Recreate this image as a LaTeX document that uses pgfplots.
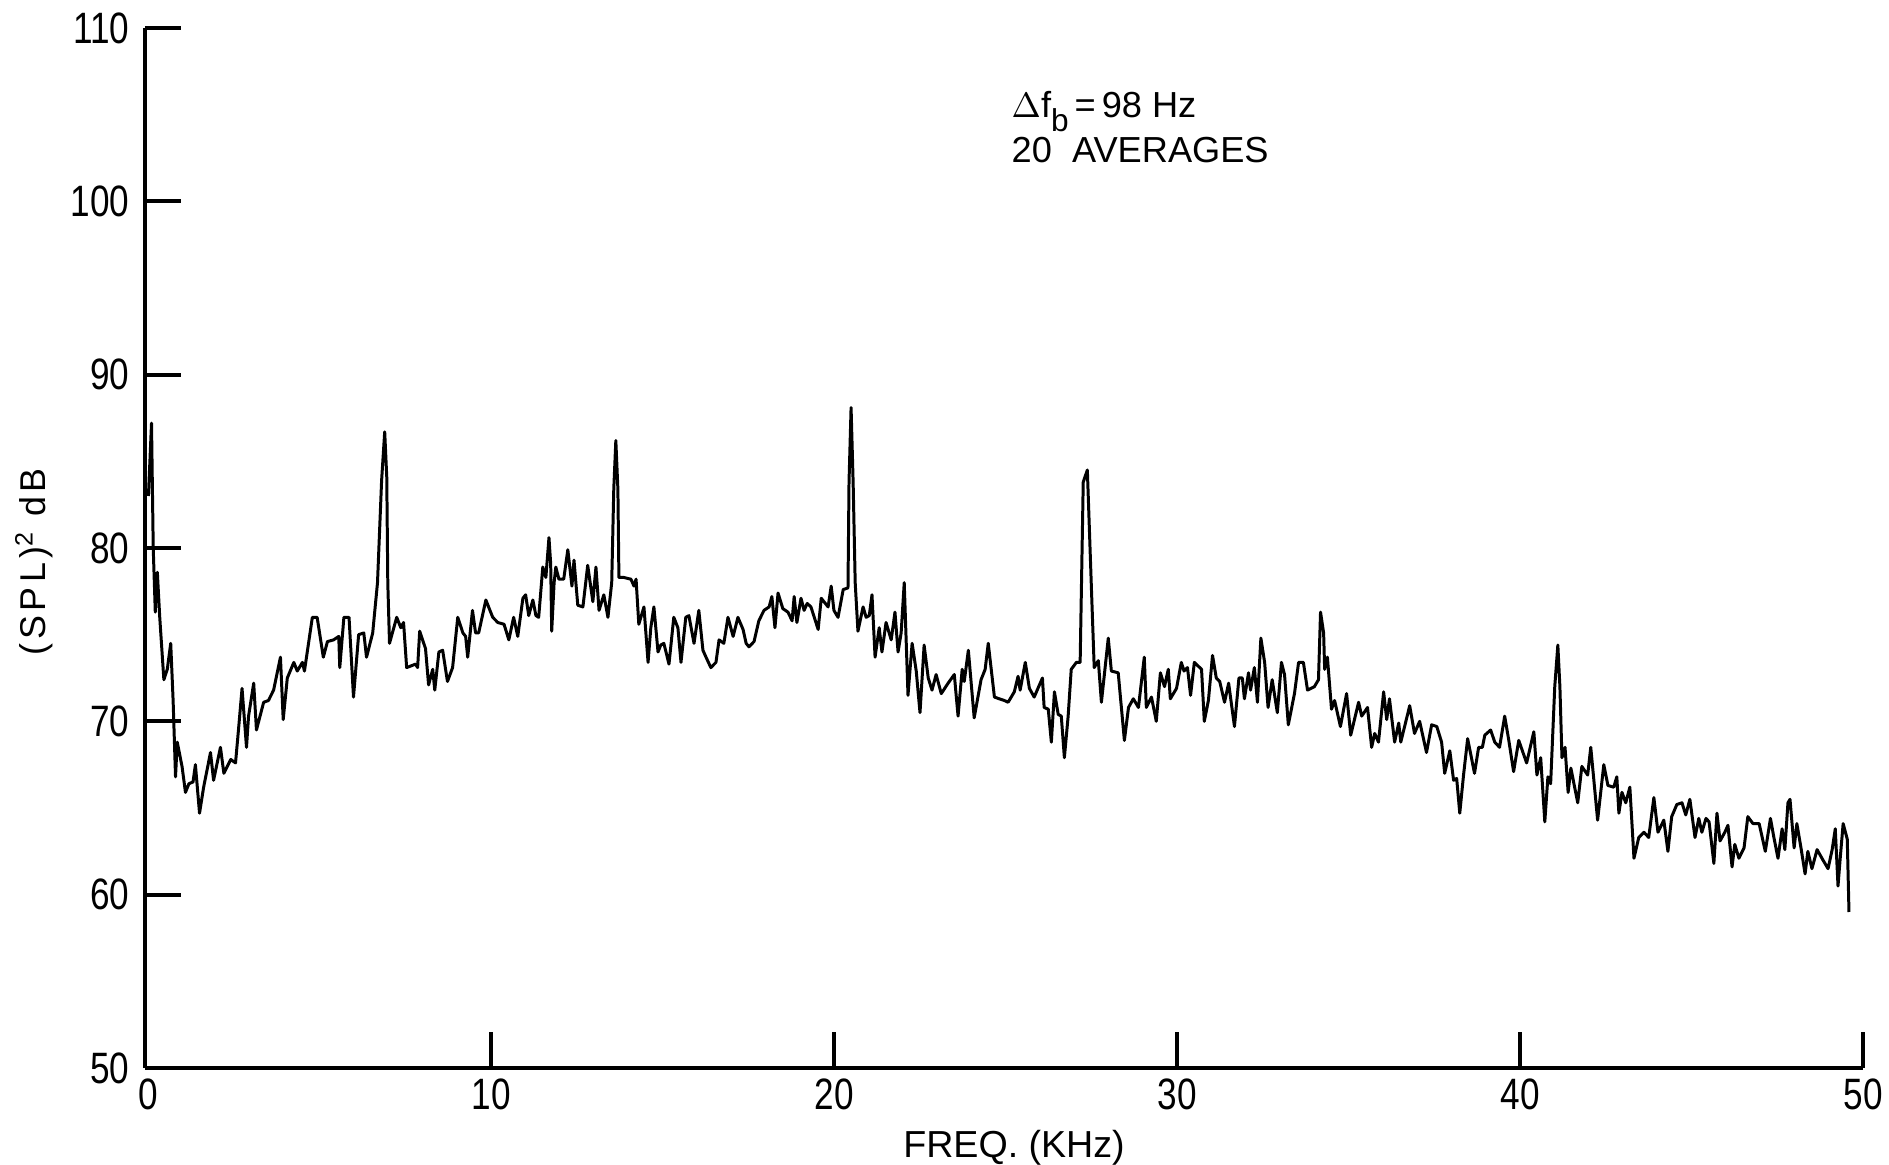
\documentclass[border=0pt]{standalone}
\usepackage{fontspec}
\setmainfont{Liberation Sans}
\newfontfamily\tickfont{Liberation Sans}[FakeStretch=0.8]
\newfontfamily\ylabfont{Liberation Sans}[LetterSpace=12]
\usepackage{pgfplots}
\pgfplotsset{compat=1.18}

\begin{document}
\begin{tikzpicture}
\begin{axis}[
  scale only axis,
  width=171.8mm, height=104mm,
  xmin=-0.1, xmax=50, ymin=50, ymax=110,
  axis x line*=bottom, axis y line*=left,
  axis line style={line width=1.3pt, black},
  xtick={10,20,30,40,50},
  ytick={60,70,80,90,100,110},
  extra x ticks={0}, extra y ticks={50},
  extra tick style={major tick length=0pt},
  tick align=inside,
  major tick length=3.6mm,
  tick style={line width=1.2pt, black},
  ticklabel style={font=\tickfont\fontsize{12.5}{14}\selectfont},
  xticklabel style={inner sep=0pt, yshift=-1mm},
  yticklabel style={inner sep=0pt, xshift=-1.5mm},
  /pgf/number format/assume math mode=true,
  clip=false,
]
% Power spectrum, 98 Hz bandwidth, 20 averages
\addplot[black, line width=0.85pt, line join=round, mark=none] coordinates {
(0.00,83.0) (0.09,87.2) (0.14,80.0) (0.20,76.3) (0.26,78.6) (0.33,76.0)
(0.45,72.4) (0.55,73.0) (0.65,74.5) (0.72,71.2) (0.79,66.8) (0.84,68.8)
(0.98,67.4) (1.08,65.9) (1.18,66.4) (1.30,66.5) (1.37,67.5) (1.49,64.7)
(1.61,66.2) (1.81,68.2) (1.90,66.6) (2.10,68.5) (2.20,67.0) (2.40,67.8)
(2.54,67.6) (2.63,69.6) (2.73,71.9) (2.86,68.5) (2.92,70.3) (3.07,72.2)
(3.15,69.5) (3.36,71.1) (3.50,71.2) (3.65,71.8) (3.85,73.7) (3.93,70.1)
(4.05,72.5) (4.24,73.4) (4.34,72.9) (4.49,73.4) (4.55,72.9) (4.78,76.0)
(4.92,76.0) (5.10,73.7) (5.22,74.6) (5.40,74.7) (5.55,74.9) (5.58,73.1)
(5.70,76.0) (5.85,76.0) (5.98,71.4) (6.13,75.0) (6.28,75.1) (6.36,73.7)
(6.54,75.1) (6.68,78.0) (6.80,83.9) (6.89,86.7) (6.95,84.1) (6.98,78.0)
(7.03,74.5) (7.24,76.0) (7.36,75.4) (7.44,75.7) (7.53,73.1) (7.79,73.3)
(7.85,73.1) (7.91,75.2) (8.08,74.2) (8.17,72.1) (8.29,73.0) (8.35,71.8)
(8.47,74.0) (8.58,74.1) (8.72,72.3) (8.87,73.1) (9.02,76.0) (9.17,75.1)
(9.25,74.9) (9.31,73.7) (9.45,76.4) (9.54,75.1) (9.63,75.1) (9.84,77.0)
(10.04,76.0) (10.19,75.7) (10.37,75.6) (10.51,74.7) (10.65,76.0) (10.77,74.9)
(10.92,77.1) (11.00,77.3) (11.09,76.1) (11.21,77.0) (11.30,76.1) (11.38,76.0)
(11.50,78.9) (11.59,78.3) (11.68,80.6) (11.73,79.1) (11.76,75.2) (11.83,78.0)
(11.88,78.9) (11.97,78.2) (12.11,78.2) (12.23,79.9) (12.35,77.8) (12.41,79.3)
(12.52,76.7) (12.67,76.6) (12.81,79.0) (12.96,76.9) (13.05,78.9) (13.14,76.4)
(13.28,77.3) (13.40,76.0) (13.51,78.0) (13.57,83.4) (13.63,86.2) (13.69,83.4)
(13.72,78.3) (13.86,78.3) (14.07,78.2) (14.16,77.8) (14.22,78.2) (14.30,75.6)
(14.45,76.6) (14.57,73.4) (14.65,75.4) (14.74,76.6) (14.86,74.0) (14.94,74.4)
(15.03,74.5) (15.18,73.3) (15.32,76.0) (15.44,75.4) (15.53,73.4) (15.67,76.0)
(15.76,76.1) (15.91,74.5) (16.05,76.4) (16.17,74.1) (16.26,73.7) (16.40,73.1)
(16.55,73.4) (16.64,74.7) (16.78,74.5) (16.90,76.0) (17.05,74.9) (17.19,76.0)
(17.34,75.3) (17.43,74.5) (17.51,74.3) (17.66,74.6) (17.80,75.8) (17.95,76.4)
(18.10,76.6) (18.18,77.2) (18.27,75.4) (18.36,77.4) (18.50,76.5) (18.65,76.3)
(18.77,75.8) (18.83,77.2) (18.91,75.7) (19.03,77.1) (19.12,76.4) (19.21,76.8)
(19.32,76.6) (19.53,75.3) (19.62,77.1) (19.70,76.9) (19.82,76.6) (19.91,77.8)
(19.99,76.4) (20.11,76.0) (20.26,77.6) (20.40,77.7) (20.43,83.8) (20.49,88.1)
(20.55,83.8) (20.61,78.0) (20.69,75.2) (20.84,76.6) (20.93,76.0) (21.02,76.1)
(21.10,77.3) (21.19,73.7) (21.31,75.4) (21.39,74.0) (21.51,75.7) (21.66,74.7)
(21.77,76.3) (21.86,74.0) (21.95,75.1) (22.04,78.0) (22.15,71.5) (22.27,74.5)
(22.39,72.9) (22.50,70.5) (22.62,74.4) (22.74,72.5) (22.85,71.8) (22.97,72.7)
(23.12,71.6) (23.32,72.2) (23.50,72.7) (23.61,70.3) (23.73,73.0) (23.79,72.3)
(23.91,74.1) (24.08,70.2) (24.28,72.4) (24.40,73.0) (24.49,74.5) (24.67,71.4)
(24.81,71.3) (24.96,71.2) (25.07,71.1) (25.25,71.7) (25.36,72.6) (25.42,71.8)
(25.57,73.4) (25.69,71.9) (25.83,71.4) (26.07,72.5) (26.12,70.8) (26.24,70.7)
(26.33,68.8) (26.42,71.7) (26.53,70.4) (26.62,70.3) (26.71,67.9) (26.82,70.3)
(26.91,73.0) (27.06,73.4) (27.17,73.4) (27.26,83.8) (27.38,84.5) (27.50,77.6)
(27.58,73.1) (27.70,73.5) (27.79,71.1) (27.99,74.8) (28.08,72.9) (28.28,72.8)
(28.46,68.9) (28.58,70.8) (28.72,71.3) (28.87,70.8) (29.04,73.7) (29.10,70.8)
(29.25,71.4) (29.39,70.0) (29.51,72.8) (29.63,72.0) (29.74,73.0) (29.80,71.3)
(29.98,71.9) (30.12,73.4) (30.20,72.9) (30.30,73.1) (30.39,71.5) (30.50,73.4)
(30.71,73.0) (30.79,70.0) (30.91,71.2) (31.03,73.8) (31.14,72.5) (31.24,72.3)
(31.38,71.1) (31.50,72.2) (31.67,69.7) (31.80,72.5) (31.90,72.5) (31.96,71.3)
(32.08,72.8) (32.14,71.8) (32.25,73.1) (32.34,71.1) (32.44,74.8) (32.55,73.4)
(32.65,70.8) (32.77,72.4) (32.92,70.5) (33.04,73.4) (33.13,72.7) (33.24,69.8)
(33.42,71.6) (33.54,73.4) (33.68,73.4) (33.80,71.8) (34.00,72.0) (34.12,72.4)
(34.18,76.3) (34.27,75.1) (34.30,73.0) (34.38,73.7) (34.50,70.7) (34.59,71.2)
(34.76,69.7) (34.94,71.6) (35.06,69.2) (35.29,71.1) (35.38,70.3) (35.55,70.8)
(35.67,68.5) (35.76,69.3) (35.87,68.8) (36.02,71.7) (36.11,70.1) (36.19,71.3)
(36.34,68.8) (36.46,69.9) (36.52,68.8) (36.78,70.9) (36.92,69.3) (37.07,70.0)
(37.27,68.2) (37.42,69.8) (37.57,69.7) (37.71,68.8) (37.80,67.0) (37.95,68.3)
(38.06,66.6) (38.15,66.7) (38.24,64.7) (38.35,66.9) (38.47,69.0) (38.67,67.0)
(38.79,68.5) (38.90,68.5) (38.97,69.2) (39.14,69.5) (39.26,68.8) (39.40,68.5)
(39.55,70.3) (39.67,68.9) (39.81,67.1) (39.96,68.9) (40.19,67.6) (40.40,69.4)
(40.49,66.9) (40.60,67.9) (40.72,64.2) (40.81,66.8) (40.89,66.4) (41.01,72.0)
(41.10,74.4) (41.16,72.0) (41.22,67.9) (41.31,68.5) (41.40,65.9) (41.48,67.3)
(41.68,65.3) (41.80,67.4) (41.97,66.9) (42.06,68.5) (42.26,64.3) (42.44,67.5)
(42.56,66.3) (42.73,66.2) (42.82,66.8) (42.88,64.7) (42.97,65.9) (43.08,65.3)
(43.20,66.2) (43.32,62.1) (43.46,63.3) (43.61,63.6) (43.75,63.3) (43.90,65.6)
(44.02,63.6) (44.19,64.3) (44.31,62.5) (44.42,64.5) (44.57,65.2) (44.72,65.3)
(44.83,64.6) (44.95,65.5) (45.10,63.3) (45.21,64.4) (45.30,63.6) (45.42,64.4)
(45.51,64.2) (45.65,61.8) (45.74,64.7) (45.83,63.1) (45.97,63.6) (46.06,64.0)
(46.18,61.6) (46.26,62.9) (46.38,62.1) (46.53,62.7) (46.64,64.5) (46.79,64.1)
(46.97,64.1) (47.15,62.5) (47.30,64.4) (47.40,63.3) (47.52,62.1) (47.64,63.8)
(47.72,62.6) (47.81,65.3) (47.87,65.5) (47.99,62.7) (48.07,64.1) (48.19,62.7)
(48.31,61.2) (48.39,62.5) (48.51,61.5) (48.66,62.6) (48.83,62.0) (48.98,61.5)
(49.10,62.6) (49.19,63.8) (49.27,60.5) (49.33,62.0) (49.42,64.1) (49.54,63.2)
(49.59,59.0)
};
\end{axis}

% axis titles and annotation
\node[rotate=90, anchor=center, inner sep=0pt, font=\ylabfont\fontsize{10.2}{12}\selectfont]
  at (-11.1mm,50.6mm) {(SPL)\textsuperscript{2} dB};
\node[anchor=base, inner sep=0pt, font=\fontsize{10.7}{12}\selectfont]
  at (86.9mm,-8.9mm) {FREQ.\ (KHz)};
\node[anchor=base west, inner sep=0pt, font=\fontsize{10.3}{12}\selectfont]
  at (86.6mm,95.0mm) {\(\Delta\)f\raisebox{-1.4mm}{\fontsize{9}{10}\selectfont b}\hspace{0.6mm}=\hspace{0.6mm}98 Hz};
\node[anchor=base west, inner sep=0pt, font=\fontsize{10.3}{12}\selectfont]
  at (86.6mm,90.5mm) {20\ \ AVERAGES};

\pgfresetboundingbox
\path[use as bounding box] (-14.5mm,-9.6mm) rectangle (174.4mm,106.8mm);
\end{tikzpicture}
\end{document}
